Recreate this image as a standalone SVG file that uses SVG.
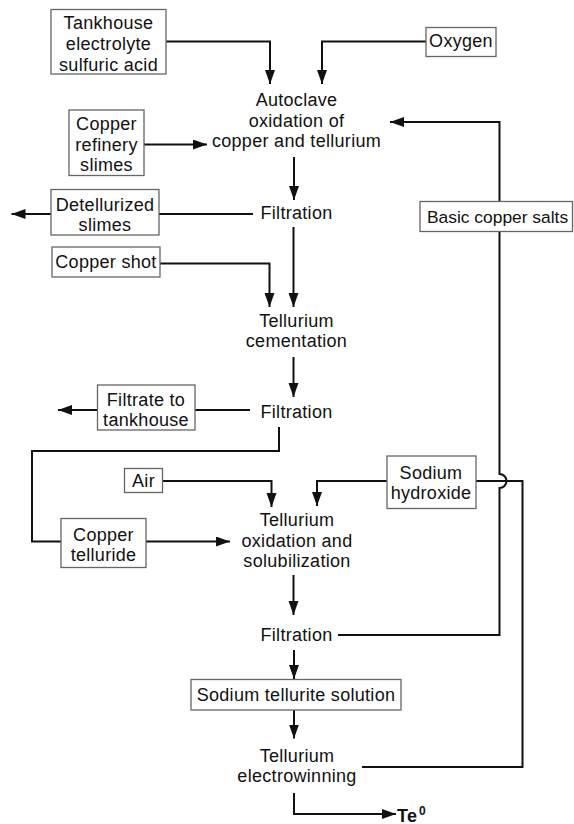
<svg xmlns="http://www.w3.org/2000/svg" width="574" height="824" viewBox="0 0 574 824">
<style>
.box{fill:#fff;stroke:#666;stroke-width:1.3}
.t{font-family:"Liberation Sans",Arial,sans-serif;font-size:18px;letter-spacing:0.3px;fill:#111;text-anchor:middle}
.s{text-anchor:start}
.c{fill:none;stroke:#111;stroke-width:2}
.a{marker-end:url(#arr)}
</style>
<defs>
<marker id="arr" markerUnits="userSpaceOnUse" markerWidth="15" markerHeight="11" refX="14" refY="5" orient="auto">
<path d="M0,0 L14,5 L0,10 z" fill="#111"/>
</marker>
</defs>
<rect width="574" height="824" fill="#fff"/>
<g id="connectors">
<path class="c a" d="M166,41.5 H270 V84"/>
<path class="c a" d="M426,41.5 H322 V84"/>
<path class="c a" d="M144,144.5 H207"/>
<path class="c a" d="M338,635 H499.5 V488 A7,7 0 0 0 499.5,474 V122 H390"/>
<path class="c a" d="M294,157 V200"/>
<path class="c" d="M253,214 H159"/>
<path class="c a" d="M51,214 H11.5"/>
<path class="c a" d="M293.5,227 V307"/>
<path class="c a" d="M160,263.5 H269.5 V307"/>
<path class="c a" d="M293.5,357 V397"/>
<path class="c" d="M250,410 H195"/>
<path class="c a" d="M97.5,410 H58"/>
<path class="c" d="M279,427 V451 H32 V541.5 H61"/>
<path class="c a" d="M146,541.5 H230"/>
<path class="c a" d="M162.5,481 H271.5 V507"/>
<path class="c a" d="M387,481 H317 V506"/>
<path class="c" d="M476,481 H522.5 V767 H362"/>
<path class="c a" d="M293.5,575 V615"/>
<path class="c a" d="M294,650 V679"/>
<path class="c a" d="M294,710 V738.5"/>
<path class="c a" d="M294,793 V814 H396"/>
</g>
<g id="tankhouse">
<rect class="box" x="51" y="9.5" width="115" height="64.5"/>
<text class="t" x="108.5" y="29">Tankhouse</text>
<text class="t" x="108.5" y="50">electrolyte</text>
<text class="t" x="108.5" y="70.5">sulfuric acid</text>
</g>
<g id="oxygen">
<rect class="box" x="426" y="27.5" width="70" height="29"/>
<text class="t" x="461" y="46.5">Oxygen</text>
</g>
<g id="slimes">
<rect class="box" x="69" y="110" width="75" height="65.5"/>
<text class="t" x="106.5" y="130">Copper</text>
<text class="t" x="106.5" y="150.5">refinery</text>
<text class="t" x="106.5" y="170.5">slimes</text>
</g>
<g id="autoclave">
<text class="t" x="296.5" y="106">Autoclave</text>
<text class="t" x="296.5" y="126.5">oxidation of</text>
<text class="t" x="296.5" y="146.5">copper and tellurium</text>
</g>
<g id="filtration1">
<text class="t" x="296.5" y="219">Filtration</text>
</g>
<g id="detellurized">
<rect class="box" x="51" y="189.5" width="108" height="45.5"/>
<text class="t" x="105" y="210.5">Detellurized</text>
<text class="t" x="105" y="230.5">slimes</text>
</g>
<g id="coppershot">
<rect class="box" x="52" y="247" width="108" height="30"/>
<text class="t" x="106" y="268">Copper shot</text>
</g>
<g id="basicsalts">
<rect class="box" x="420" y="201.5" width="152.5" height="30"/>
<text class="t s" x="427" y="222.5" style="font-size:17.4px;letter-spacing:0">Basic copper salts</text>
</g>
<g id="cementation">
<text class="t" x="296.5" y="327">Tellurium</text>
<text class="t" x="296.5" y="347">cementation</text>
</g>
<g id="filtration2">
<text class="t" x="296.5" y="418">Filtration</text>
</g>
<g id="filtrate">
<rect class="box" x="97.5" y="385" width="97.5" height="45"/>
<text class="t" x="146" y="405.5">Filtrate to</text>
<text class="t" x="146" y="425.5">tankhouse</text>
</g>
<g id="air">
<rect class="box" x="124.5" y="468.5" width="38" height="24"/>
<text class="t" x="143.5" y="487">Air</text>
</g>
<g id="naoh">
<rect class="box" x="387" y="456" width="89" height="52.5"/>
<text class="t" x="431" y="478.5">Sodium</text>
<text class="t" x="431" y="498.5">hydroxide</text>
</g>
<g id="cutelluride">
<rect class="box" x="61" y="518.5" width="85" height="49"/>
<text class="t" x="103.5" y="540.5">Copper</text>
<text class="t" x="103.5" y="560.5">telluride</text>
</g>
<g id="oxidation">
<text class="t" x="297" y="525.7">Tellurium</text>
<text class="t" x="297" y="546.7">oxidation and</text>
<text class="t" x="297" y="567.3">solubilization</text>
</g>
<g id="filtration3">
<text class="t" x="296.5" y="640.5">Filtration</text>
</g>
<g id="tellurite">
<rect class="box" x="191" y="679.5" width="210" height="30.5"/>
<text class="t" x="296" y="701">Sodium tellurite solution</text>
</g>
<g id="electrowinning">
<text class="t" x="297" y="761.7">Tellurium</text>
<text class="t" x="297" y="782.3">electrowinning</text>
</g>
<g id="te0">
<text class="t s" x="397" y="821.5" style="font-weight:bold">Te</text>
<text class="t s" x="419" y="815" style="font-size:12px;font-weight:bold">0</text>
</g>
</svg>
